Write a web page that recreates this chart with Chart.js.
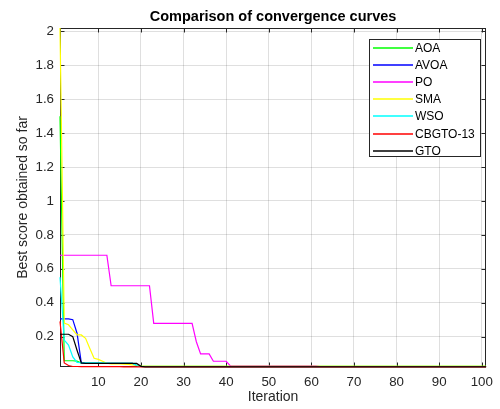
<!DOCTYPE html>
<html>
<head>
<meta charset="utf-8">
<script src="https://cdn.jsdelivr.net/npm/chart.js@4.4.1/dist/chart.umd.min.js"></script>
<style>
  html, body { margin: 0; padding: 0; background: #fff; }
  #chart { display: block; }
</style>
</head>
<body>
<canvas id="chart" width="500" height="409"></canvas>
<script>
// ===== Data =====
const iterations = [
  1, 2, 3, 4, 5, 6, 7, 8, 9, 10,
  11, 12, 13, 14, 15, 16, 17, 18, 19, 20,
  21, 22, 23, 24, 25, 26, 27, 28, 29, 30,
  31, 32, 33, 34, 35, 36, 37, 38, 39, 40,
  41, 42, 43, 44, 45, 46, 47, 48, 49, 50,
  51, 52, 53, 54, 55, 56, 57, 58, 59, 60,
  61, 62, 63, 64, 65, 66, 67, 68, 69, 70,
  71, 72, 73, 74, 75, 76, 77, 78, 79, 80,
  81, 82, 83, 84, 85, 86, 87, 88, 89, 90,
  91, 92, 93, 94, 95, 96, 97, 98, 99, 100,
  101,
];

const aoaValues = [
  1.5, 0.058, 0.058, 0.058, 0.056, 0.044, 0.042, 0.042, 0.042, 0.042,
  0.042, 0.042, 0.042, 0.042, 0.042, 0.042, 0.042, 0.042, 0.03, 0.025,
  0.025, 0.025, 0.025, 0.025, 0.025, 0.025, 0.025, 0.025, 0.025, 0.025,
  0.025, 0.025, 0.025, 0.025, 0.025, 0.025, 0.025, 0.025, 0.025, 0.025,
  0.025, 0.025, 0.025, 0.025, 0.025, 0.025, 0.025, 0.025, 0.025, 0.025,
  0.025, 0.025, 0.025, 0.025, 0.025, 0.025, 0.025, 0.025, 0.025, 0.025,
  0.025, 0.025, 0.025, 0.025, 0.025, 0.025, 0.025, 0.025, 0.025, 0.025,
  0.025, 0.025, 0.025, 0.025, 0.025, 0.025, 0.025, 0.025, 0.025, 0.025,
  0.025, 0.025, 0.025, 0.025, 0.025, 0.025, 0.025, 0.025, 0.025, 0.025,
  0.025, 0.025, 0.025, 0.025, 0.025, 0.025, 0.025, 0.025, 0.025, 0.025,
  0.025,
];

const avoaValues = [
  0.305, 0.305, 0.305, 0.3, 0.22, 0.045, 0.042, 0.042, 0.042, 0.042,
  0.042, 0.042, 0.042, 0.042, 0.042, 0.042, 0.042, 0.042, 0.03, 0.024,
  0.024, 0.024, 0.024, 0.024, 0.024, 0.024, 0.024, 0.024, 0.024, 0.024,
  0.024, 0.024, 0.024, 0.024, 0.024, 0.024, 0.024, 0.024, 0.024, 0.024,
  0.024, 0.024, 0.024, 0.024, 0.024, 0.024, 0.024, 0.024, 0.024, 0.024,
  0.024, 0.024, 0.024, 0.024, 0.024, 0.024, 0.024, 0.024, 0.024, 0.024,
  0.024, 0.024, 0.024, 0.024, 0.024, 0.024, 0.024, 0.024, 0.024, 0.024,
  0.024, 0.024, 0.024, 0.024, 0.024, 0.024, 0.024, 0.024, 0.024, 0.024,
  0.024, 0.024, 0.024, 0.024, 0.024, 0.024, 0.024, 0.024, 0.024, 0.024,
  0.024, 0.024, 0.024, 0.024, 0.024, 0.024, 0.024, 0.024, 0.024, 0.024,
  0.024,
];

const poValues = [
  0.68, 0.68, 0.68, 0.68, 0.68, 0.68, 0.68, 0.68, 0.68, 0.68,
  0.68, 0.68, 0.5, 0.5, 0.5, 0.5, 0.5, 0.5, 0.5, 0.5,
  0.5, 0.5, 0.278, 0.278, 0.278, 0.278, 0.278, 0.278, 0.278, 0.278,
  0.278, 0.278, 0.17, 0.098, 0.098, 0.098, 0.055, 0.055, 0.055, 0.055,
  0.027, 0.027, 0.027, 0.027, 0.027, 0.027, 0.027, 0.027, 0.027, 0.027,
  0.027, 0.027, 0.027, 0.027, 0.027, 0.027, 0.027, 0.027, 0.027, 0.027,
  0.027, 0.024, 0.024, 0.024, 0.024, 0.024, 0.024, 0.024, 0.024, 0.024,
  0.024, 0.024, 0.024, 0.024, 0.024, 0.024, 0.024, 0.024, 0.024, 0.024,
  0.024, 0.024, 0.024, 0.024, 0.024, 0.024, 0.024, 0.024, 0.024, 0.024,
  0.024, 0.024, 0.024, 0.024, 0.024, 0.024, 0.024, 0.024, 0.024, 0.024,
  0.024,
];

const smaValues = [
  2.02, 0.28, 0.27, 0.24, 0.21, 0.21, 0.19, 0.13, 0.072, 0.066,
  0.055, 0.043, 0.04, 0.04, 0.04, 0.038, 0.036, 0.034, 0.03, 0.025,
  0.025, 0.025, 0.025, 0.025, 0.025, 0.025, 0.025, 0.025, 0.025, 0.025,
  0.025, 0.025, 0.025, 0.025, 0.025, 0.025, 0.025, 0.025, 0.025, 0.025,
  0.025, 0.025, 0.025, 0.025, 0.025, 0.025, 0.025, 0.025, 0.025, 0.025,
  0.025, 0.025, 0.025, 0.025, 0.025, 0.025, 0.025, 0.025, 0.025, 0.025,
  0.025, 0.025, 0.025, 0.025, 0.025, 0.025, 0.025, 0.025, 0.025, 0.025,
  0.025, 0.025, 0.025, 0.025, 0.025, 0.025, 0.025, 0.025, 0.025, 0.025,
  0.025, 0.025, 0.025, 0.025, 0.025, 0.025, 0.025, 0.025, 0.025, 0.025,
  0.025, 0.025, 0.025, 0.025, 0.025, 0.025, 0.025, 0.025, 0.025, 0.025,
  0.025,
];

const wsoValues = [
  0.55, 0.18, 0.15, 0.08, 0.048, 0.046, 0.046, 0.046, 0.046, 0.046,
  0.046, 0.044, 0.042, 0.042, 0.042, 0.042, 0.042, 0.042, 0.03, 0.024,
  0.024, 0.024, 0.024, 0.024, 0.024, 0.024, 0.024, 0.024, 0.024, 0.024,
  0.024, 0.024, 0.024, 0.024, 0.024, 0.024, 0.024, 0.024, 0.024, 0.024,
  0.024, 0.024, 0.024, 0.024, 0.024, 0.024, 0.024, 0.024, 0.024, 0.024,
  0.024, 0.024, 0.024, 0.024, 0.024, 0.024, 0.024, 0.024, 0.024, 0.024,
  0.024, 0.024, 0.024, 0.024, 0.024, 0.024, 0.024, 0.024, 0.024, 0.024,
  0.024, 0.024, 0.024, 0.024, 0.024, 0.024, 0.024, 0.024, 0.024, 0.024,
  0.024, 0.024, 0.024, 0.024, 0.024, 0.024, 0.024, 0.024, 0.024, 0.024,
  0.024, 0.024, 0.024, 0.024, 0.024, 0.024, 0.024, 0.024, 0.024, 0.024,
  0.024,
];

const cbgtoValues = [
  0.29, 0.045, 0.03, 0.024, 0.024, 0.023, 0.023, 0.023, 0.023, 0.023,
  0.023, 0.023, 0.023, 0.023, 0.023, 0.022, 0.022, 0.022, 0.022, 0.022,
  0.022, 0.022, 0.022, 0.022, 0.022, 0.022, 0.022, 0.022, 0.022, 0.022,
  0.022, 0.022, 0.022, 0.022, 0.022, 0.022, 0.022, 0.022, 0.022, 0.022,
  0.022, 0.022, 0.022, 0.022, 0.022, 0.022, 0.022, 0.022, 0.022, 0.022,
  0.022, 0.022, 0.022, 0.022, 0.022, 0.022, 0.022, 0.022, 0.022, 0.022,
  0.022, 0.022, 0.022, 0.022, 0.022, 0.022, 0.022, 0.022, 0.022, 0.022,
  0.022, 0.022, 0.022, 0.022, 0.022, 0.022, 0.022, 0.022, 0.022, 0.022,
  0.022, 0.022, 0.022, 0.022, 0.022, 0.022, 0.022, 0.022, 0.022, 0.022,
  0.022, 0.022, 0.022, 0.022, 0.022, 0.022, 0.022, 0.022, 0.022, 0.022,
  0.022,
];

const gtoValues = [
  0.214, 0.214, 0.214, 0.2, 0.12, 0.045, 0.042, 0.042, 0.042, 0.042,
  0.042, 0.042, 0.042, 0.042, 0.042, 0.042, 0.042, 0.042, 0.042, 0.025,
  0.022, 0.022, 0.022, 0.022, 0.022, 0.022, 0.022, 0.022, 0.022, 0.022,
  0.022, 0.022, 0.022, 0.022, 0.022, 0.022, 0.022, 0.022, 0.022, 0.022,
  0.022, 0.022, 0.022, 0.022, 0.022, 0.022, 0.022, 0.022, 0.022, 0.022,
  0.022, 0.022, 0.022, 0.022, 0.022, 0.022, 0.022, 0.022, 0.022, 0.022,
  0.022, 0.022, 0.022, 0.022, 0.022, 0.022, 0.022, 0.022, 0.022, 0.022,
  0.022, 0.022, 0.022, 0.022, 0.022, 0.022, 0.022, 0.022, 0.022, 0.022,
  0.022, 0.022, 0.022, 0.022, 0.022, 0.022, 0.022, 0.022, 0.022, 0.022,
  0.022, 0.022, 0.022, 0.022, 0.022, 0.022, 0.022, 0.022, 0.022, 0.022,
  0.022,
];

const seriesNames = ["AOA", "AVOA", "PO", "SMA", "WSO", "CBGTO-13", "GTO"];
const seriesValues = [aoaValues, avoaValues, poValues, smaValues, wsoValues, cbgtoValues, gtoValues];
const seriesColors = ["#00ff00", "#0000ff", "#ff00ff", "#ffff00", "#00ffff", "#ff0000", "#000000"];

const xTicks = [10, 20, 30, 40, 50, 60, 70, 80, 90, 100];
const yTicks = [0.2, 0.4, 0.6, 0.8, 1, 1.2, 1.4, 1.6, 1.8, 2];

const titleText = "Comparison of convergence curves";
const xLabel = "Iteration";
const yLabel = "Best score obtained so far";

const axisColor = "#262626";
const gridColor = "rgba(38, 38, 38, 0.15)";
const fontFamily = "'Liberation Sans', Arial, Helvetica, sans-serif";

// ===== Frame, inward ticks, labels and legend (MATLAB look) =====
const matlabFrame = {
  id: "matlabFrame",
  beforeDatasetsDraw(chart) {
    const { ctx, chartArea: a, scales } = chart;
    const L = Math.round(a.left) + 0.5;
    const R = Math.round(a.right) - 0.5;
    const T = Math.round(a.top) + 0.5;
    const B = Math.round(a.bottom) - 0.5;
    ctx.save();
    ctx.strokeStyle = axisColor;
    ctx.lineWidth = 1;
    ctx.strokeRect(L, T, R - L, B - T);
    ctx.beginPath();
    xTicks.forEach((v) => {
      const px = Math.round(scales.x.getPixelForValue(v)) + 0.5;
      ctx.moveTo(px, B);
      ctx.lineTo(px, B - 4);
      ctx.moveTo(px, T);
      ctx.lineTo(px, T + 4);
    });
    yTicks.forEach((v) => {
      const py = Math.round(scales.y.getPixelForValue(v)) + 0.5;
      ctx.moveTo(L, py);
      ctx.lineTo(L + 4, py);
      ctx.moveTo(R, py);
      ctx.lineTo(R - 4, py);
    });
    ctx.stroke();
    ctx.restore();
  },
  afterDraw(chart) {
    const { ctx, chartArea: a } = chart;
    const cx = (a.left + a.right) / 2;
    ctx.save();
    ctx.fillStyle = "#000";
    ctx.textAlign = "center";
    ctx.textBaseline = "middle";
    ctx.font = "bold 14.5px " + fontFamily;
    ctx.fillText(titleText, cx, 17);

    ctx.fillStyle = axisColor;
    ctx.font = "14px " + fontFamily;
    ctx.fillText(xLabel, cx, 397);

    ctx.translate(23, (a.top + a.bottom) / 2);
    ctx.rotate(-Math.PI / 2);
    ctx.fillText(yLabel, 0, 0);
    ctx.restore();

    // legend box
    const box = { x: 369.5, y: 39.5, w: 111, h: 117 };
    ctx.save();
    ctx.fillStyle = "#fff";
    ctx.fillRect(box.x, box.y, box.w, box.h);
    ctx.strokeStyle = axisColor;
    ctx.lineWidth = 1;
    ctx.strokeRect(box.x, box.y, box.w, box.h);
    ctx.font = "12px " + fontFamily;
    ctx.textAlign = "left";
    ctx.textBaseline = "middle";
    seriesNames.forEach((name, i) => {
      const y = Math.round(47.5 + i * 17.2);
      ctx.strokeStyle = seriesColors[i];
      ctx.lineWidth = 1.3;
      ctx.beginPath();
      ctx.moveTo(373, y);
      ctx.lineTo(413, y);
      ctx.stroke();
      ctx.fillStyle = "#000";
      ctx.fillText(name, 415, y + 0.5);
    });
    ctx.restore();
  },
};

new Chart(document.getElementById("chart"), {
  type: "line",
  data: {
    labels: iterations,
    datasets: seriesNames.map((name, i) => ({
      label: name,
      data: seriesValues[i],
      borderColor: seriesColors[i],
      borderWidth: 1.2,
      pointRadius: 0,
      tension: 0,
      fill: false,
      clip: false,
      order: seriesNames.length - i, // later series on top, as in MATLAB
    })),
  },
  options: {
    responsive: false,
    animation: false,
    devicePixelRatio: 1,
    layout: { padding: { top: 28, right: 10, left: 0, bottom: 0 } },
    plugins: {
      legend: { display: false },
      tooltip: { enabled: false },
      title: { display: false },
    },
    scales: {
      x: {
        type: "linear",
        min: 1,
        max: 101,
        afterFit: (scale) => { scale.height = 42; },
        afterBuildTicks: (scale) => { scale.ticks = xTicks.map((v) => ({ value: v })); },
        grid: { color: gridColor, drawTicks: false },
        border: { display: false },
        ticks: {
          color: axisColor,
          padding: 7,
          maxRotation: 0,
          font: { family: fontFamily, size: 13.3 },
          callback: (v) => String(v),
        },
      },
      y: {
        type: "linear",
        min: 0.021,
        max: 2.02,
        afterFit: (scale) => { scale.width = 60; },
        afterBuildTicks: (scale) => { scale.ticks = yTicks.map((v) => ({ value: v })); },
        grid: { color: gridColor, drawTicks: false },
        border: { display: false },
        ticks: {
          color: axisColor,
          padding: 6,
          font: { family: fontFamily, size: 13.3 },
          callback: (v) => String(v),
        },
      },
    },
  },
  plugins: [matlabFrame],
});
</script>
</body>
</html>
